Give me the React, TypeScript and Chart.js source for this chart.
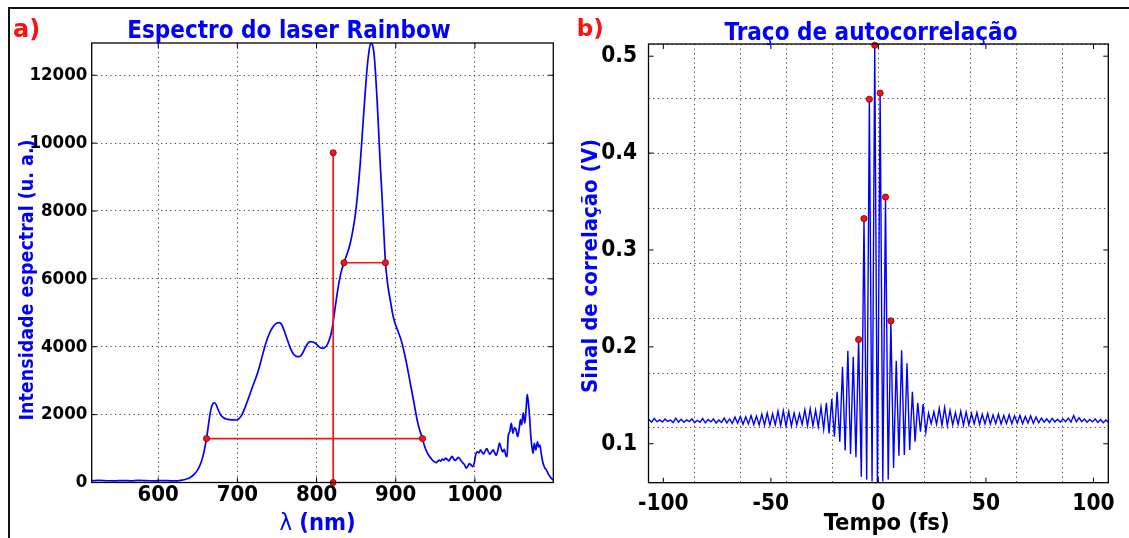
import React, { useEffect, useRef } from 'react';
import { Chart, registerables } from 'chart.js';

Chart.register(...registerables);

// ---------------- Panel a) : spectrum of the Rainbow laser ----------------
const wavelengthNm = [
  516, 525, 535, 545, 555, 565, 575, 585, 595, 605, 615, 622, 628, 634, 640, 645, 650, 654, 657, 659,
  661, 663, 665, 667, 669, 671, 673, 676, 679, 683, 688, 693, 698, 702, 706, 710, 714, 718, 722, 726,
  730, 734, 738, 742, 746, 750, 753, 756, 759, 762, 765, 768, 771, 774, 777, 780, 783, 786, 789, 792,
  795, 798, 801, 804, 807, 810, 813, 816, 819, 822, 825, 828, 831, 834.6, 838, 842, 846, 849, 852, 855,
  858, 861, 864, 866.5, 868.4, 870.5, 872.5, 874.5, 876.5, 878.5, 880.5, 882.5, 884.5, 887, 889, 891, 893.5, 896, 899, 903,
  907, 911, 915, 919, 923, 927, 930, 933.8, 936, 939, 942, 945, 948, 951, 953, 955, 957, 959, 961, 963,
  965, 967, 969, 971, 973, 975, 977, 979, 981, 983, 985, 987, 989, 991, 993, 995, 997, 999, 1001, 1003,
  1005, 1007, 1009, 1011, 1013, 1015, 1017, 1019, 1021, 1023, 1025, 1027, 1029, 1031, 1033, 1035, 1037, 1039, 1040.5, 1042,
  1044, 1046, 1048, 1050, 1052, 1054, 1056, 1057.5, 1059, 1061, 1063, 1064.5, 1066, 1067.5, 1069, 1070.5, 1072, 1073.5, 1075, 1077,
  1079, 1080.5, 1082, 1083.5, 1085.5, 1087, 1088.5, 1090, 1091.5, 1093, 1095, 1097, 1099,
];
const spectralIntensity = [
  55, 60, 52, 48, 58, 50, 62, 55, 48, 58, 50, 45, 60, 90, 140, 230, 380, 580, 820, 1040,
  1290, 1620, 1950, 2200, 2320, 2350, 2300, 2130, 1990, 1900, 1860, 1845, 1841, 1880, 2010, 2230, 2480, 2750, 3000, 3260,
  3600, 3950, 4250, 4470, 4620, 4700, 4708, 4650, 4480, 4280, 4080, 3900, 3780, 3720, 3706, 3730, 3840, 3980, 4100, 4148,
  4140, 4110, 4050, 3980, 3953, 3970, 4040, 4200, 4450, 4900, 5400, 5850, 6200, 6475, 6700, 7000, 7450, 7900, 8550, 9350,
  10350, 11350, 12250, 12750, 12950, 12900, 12650, 12050, 11250, 10300, 9350, 8500, 7600, 6475, 6000, 5650, 5320, 4980, 4700, 4450,
  4180, 3800, 3350, 2850, 2350, 1850, 1560, 1295, 1100, 920, 790, 700, 620, 585, 620, 660, 630, 690, 660, 720,
  680, 640, 700, 770, 700, 650, 690, 740, 700, 620, 570, 520, 420, 480, 560, 520, 470, 560, 820, 900,
  870, 960, 890, 840, 930, 1000, 900, 830, 900, 960, 870, 800, 950, 1160, 1020, 900, 980, 800, 760, 1350,
  1500, 1740, 1450, 1620, 1550, 1350, 1600, 1850, 1700, 2050, 1750, 2100, 2600, 2350, 1950, 1400, 1050, 860, 1150, 960,
  1200, 1050, 1100, 900, 620, 500, 420, 380, 310, 240, 170, 110, 74,
];
const spectrumXTicks = [600, 700, 800, 900, 1000];
const spectrumYTicks = [0, 2000, 4000, 6000, 8000, 10000, 12000];
const centerLineNm = [821, 821];
const centerLineLevel = [0, 9716];
const halfMaxNm = [834.6, 887];
const halfMaxLevel = [6475, 6475];
const tenthMaxNm = [661, 933.8];
const tenthMaxLevel = [1295, 1295];

// ---------------- Panel b) : autocorrelation trace ----------------
const delayFs = [
  -106.7, -105.45, -104.2, -102.95, -101.7, -100.45, -99.2, -97.95, -96.7, -95.45,
  -94.2, -92.95, -91.7, -90.45, -89.2, -87.95, -86.7, -85.45, -84.2, -82.95,
  -81.7, -80.45, -79.2, -77.95, -76.7, -75.45, -74.2, -72.95, -71.7, -70.45,
  -69.2, -67.95, -66.7, -65.45, -64.2, -62.95, -61.7, -60.45, -59.2, -57.95,
  -56.7, -55.45, -54.2, -52.95, -51.7, -50.45, -49.2, -47.95, -46.7, -45.45,
  -44.2, -42.95, -41.7, -40.45, -39.2, -37.95, -36.7, -35.45, -34.2, -32.95,
  -31.7, -30.45, -29.2, -27.95, -26.7, -25.45, -24.2, -22.95, -21.7, -20.45,
  -19.2, -17.95, -16.7, -15.45, -14.2, -12.95, -11.7, -10.45, -9.2, -7.95,
  -6.7, -5.45, -4.2, -2.95, -1.7, -0.45, 0.8, 2.05, 3.3, 4.55,
  5.8, 7.05, 8.3, 9.55, 10.8, 12.05, 13.3, 14.55, 15.8, 17.05,
  18.3, 19.55, 20.8, 22.05, 23.3, 24.55, 25.8, 27.05, 28.3, 29.55,
  30.8, 32.05, 33.3, 34.55, 35.8, 37.05, 38.3, 39.55, 40.8, 42.05,
  43.3, 44.55, 45.8, 47.05, 48.3, 49.55, 50.8, 52.05, 53.3, 54.55,
  55.8, 57.05, 58.3, 59.55, 60.8, 62.05, 63.3, 64.55, 65.8, 67.05,
  68.3, 69.55, 70.8, 72.05, 73.3, 74.55, 75.8, 77.05, 78.3, 79.55,
  80.8, 82.05, 83.3, 84.55, 85.8, 87.05, 88.3, 89.55, 90.8, 92.05,
  93.3, 94.55, 95.8, 97.05, 98.3, 99.55, 100.8, 102.05, 103.3, 104.55,
  105.8, 107.05,
];
const correlationV = [
  0.1250, 0.1222, 0.1262, 0.1226, 0.1246, 0.1224, 0.1256, 0.1230, 0.1244, 0.1218,
  0.1264, 0.1224, 0.1252, 0.1222, 0.1246, 0.1228, 0.1256, 0.1218, 0.1242, 0.1222,
  0.1260, 0.1216, 0.1250, 0.1226, 0.1256, 0.1214, 0.1246, 0.1220, 0.1264, 0.1216,
  0.1256, 0.1210, 0.1275, 0.1212, 0.1282, 0.1200, 0.1278, 0.1205, 0.1290, 0.1198,
  0.1285, 0.1195, 0.1305, 0.1192, 0.1318, 0.1190, 0.1310, 0.1195, 0.1335, 0.1186,
  0.1340, 0.1182, 0.1332, 0.1185, 0.1318, 0.1195, 0.1310, 0.1200, 0.1350, 0.1186,
  0.1362, 0.1185, 0.1345, 0.1175, 0.1380, 0.1150, 0.1423, 0.1107, 0.1461, 0.1072,
  0.1536, 0.1020, 0.1794, 0.0930, 0.1959, 0.0894, 0.1897, 0.0860, 0.2076, 0.0660,
  0.3324, 0.0630, 0.4556, 0.0610, 0.5113, 0.0590, 0.4619, 0.0610, 0.3546, 0.0630,
  0.2268, 0.0750, 0.1856, 0.0876, 0.1966, 0.0884, 0.1830, 0.0935, 0.1536, 0.1020,
  0.1423, 0.1124, 0.1410, 0.1120, 0.1316, 0.1206, 0.1330, 0.1200, 0.1365, 0.1190,
  0.1375, 0.1188, 0.1345, 0.1195, 0.1320, 0.1200, 0.1335, 0.1192, 0.1328, 0.1196,
  0.1310, 0.1205, 0.1322, 0.1200, 0.1305, 0.1206, 0.1312, 0.1202, 0.1298, 0.1208,
  0.1305, 0.1204, 0.1292, 0.1210, 0.1300, 0.1206, 0.1288, 0.1212, 0.1294, 0.1208,
  0.1282, 0.1214, 0.1288, 0.1210, 0.1276, 0.1216, 0.1264, 0.1224, 0.1256, 0.1220,
  0.1262, 0.1226, 0.1252, 0.1222, 0.1258, 0.1228, 0.1264, 0.1224, 0.1292, 0.1226,
  0.1268, 0.1228, 0.1256, 0.1222, 0.1250, 0.1226, 0.1258, 0.1220, 0.1250, 0.1218,
  0.1246, 0.1220,
];
const peakDelayFs = [-9.2, -6.7, -4.2, -1.7, 0.8, 3.3, 5.8];
const peakSignalV = [0.2076, 0.3324, 0.4556, 0.5113, 0.4619, 0.3546, 0.2268];
const traceXTicks = [-100, -50, 0, 50, 100];
const traceYTicks = [0.1, 0.2, 0.3, 0.4, 0.5];

// ---------------- styling ----------------
const FONT = "'DejaVu Sans Condensed', 'DejaVu Sans', sans-serif";
const FONT_REG = "'DejaVu Sans', sans-serif";
const BLUE = '#0000ff';
const RED = '#ff1010';
const DARK_RED = '#7a0000';
const GRID_COLOR = 'rgba(30,30,30,0.85)';
const GRID_DASH = [1.2, 3.4];

type TextPart = { text: string; font: string };
type TextItem = {
  parts: TextPart[];
  x: number;
  y: number;
  color: string;
  align?: 'left' | 'center';
  rotate?: boolean;
  baseline?: CanvasTextBaseline;
};

function makeTextPlugin(items: TextItem[]) {
  return {
    id: 'panelTexts',
    afterDraw(chart: any) {
      const ctx: CanvasRenderingContext2D = chart.ctx;
      for (const it of items) {
        ctx.save();
        ctx.translate(it.x, it.y);
        if (it.rotate) ctx.rotate(-Math.PI / 2);
        ctx.fillStyle = it.color;
        ctx.textBaseline = it.baseline || 'alphabetic';
        ctx.textAlign = 'left';
        let total = 0;
        const widths = it.parts.map((p) => {
          ctx.font = p.font;
          const w = ctx.measureText(p.text).width;
          total += w;
          return w;
        });
        let x = it.align === 'left' ? 0 : -total / 2;
        it.parts.forEach((p, i) => {
          ctx.font = p.font;
          ctx.fillText(p.text, x, 0);
          x += widths[i];
        });
        ctx.restore();
      }
    },
  };
}

const frameTicksPlugin = {
  id: 'frameTicks',
  afterDatasetsDraw(chart: any) {
    const ctx: CanvasRenderingContext2D = chart.ctx;
    const a = chart.chartArea;
    const xs = chart.scales.x;
    const ys = chart.scales.y;
    ctx.save();
    ctx.strokeStyle = '#000';
    ctx.lineWidth = 1;
    ctx.beginPath();
    xs.ticks.forEach((t: any) => {
      const px = xs.getPixelForValue(t.value);
      ctx.moveTo(px, a.bottom);
      ctx.lineTo(px, a.bottom - 5);
      ctx.moveTo(px, a.top);
      ctx.lineTo(px, a.top + 5);
    });
    ys.ticks.forEach((t: any) => {
      const py = ys.getPixelForValue(t.value);
      ctx.moveTo(a.left, py);
      ctx.lineTo(a.left + 5, py);
      ctx.moveTo(a.right, py);
      ctx.lineTo(a.right - 5, py);
    });
    ctx.stroke();
    ctx.lineWidth = 1.3;
    ctx.strokeRect(a.left, a.top, a.right - a.left, a.bottom - a.top);
    ctx.restore();
  },
};

const pts = (xs: number[], ys: number[]) => xs.map((x, i) => ({ x, y: ys[i] }));

const redSegment = (xs: number[], ys: number[]) => ({
  data: pts(xs, ys),
  borderColor: RED,
  borderWidth: 1.7,
  pointRadius: 3.1,
  pointBackgroundColor: RED,
  pointBorderColor: DARK_RED,
  pointBorderWidth: 0.8,
  clip: 6,
});

const gridOpts = { color: GRID_COLOR, lineWidth: 1, drawTicks: false };
const borderOpts = { display: false, dash: GRID_DASH };

function SpectrumChart() {
  const ref = useRef<HTMLCanvasElement>(null);
  useEffect(() => {
    const X_MIN = 516;
    const X_MAX = 1099;
    const chart = new Chart(ref.current as HTMLCanvasElement, {
      type: 'line',
      data: {
        datasets: [
          redSegment(centerLineNm, centerLineLevel),
          redSegment(halfMaxNm, halfMaxLevel),
          redSegment(tenthMaxNm, tenthMaxLevel),
          {
            data: pts(wavelengthNm, spectralIntensity),
            borderColor: BLUE,
            borderWidth: 1.7,
            pointRadius: 0,
            cubicInterpolationMode: 'monotone',
            order: 5,
          },
        ] as any,
      },
      options: {
        responsive: false,
        animation: false,
        events: [],
        layout: { padding: { left: 0, top: 43, right: 11.7, bottom: 0 } },
        plugins: { legend: { display: false }, tooltip: { enabled: false }, title: { display: false } },
        scales: {
          x: {
            type: 'linear',
            min: X_MIN,
            max: X_MAX,
            afterBuildTicks: (s: any) => {
              s.ticks = spectrumXTicks.map((v) => ({ value: v }));
            },
            afterFit: (s: any) => {
              s.height = 55.5;
            },
            grid: gridOpts,
            border: borderOpts,
            ticks: {
              color: '#000',
              padding: 0,
              maxRotation: 0,
              autoSkip: false,
              font: { family: FONT, size: 22, weight: 'bold' },
              callback: (v: any) => String(v),
            },
          },
          y: {
            type: 'linear',
            min: 0,
            max: 12950,
            afterBuildTicks: (s: any) => {
              s.ticks = spectrumYTicks.map((v) => ({ value: v }));
            },
            afterFit: (s: any) => {
              s.width = 91.7;
            },
            grid: gridOpts,
            border: borderOpts,
            ticks: {
              color: '#000',
              padding: 4.4,
              autoSkip: false,
              font: { family: FONT, size: 18.5, weight: 'bold' },
              callback: (v: any) => String(v),
            },
          },
        },
      } as any,
      plugins: [
        frameTicksPlugin,
        makeTextPlugin([
          { parts: [{ text: 'a)', font: `bold 24px ${FONT_REG}` }], x: 13, y: 37, color: RED, align: 'left' },
          { parts: [{ text: 'Espectro do laser Rainbow', font: `bold 24px ${FONT}` }], x: 289, y: 38.4, color: BLUE },
          {
            parts: [{ text: 'Intensidade espectral (u. a.)', font: `bold 19.5px ${FONT}` }],
            x: 28,
            y: 280,
            color: BLUE,
            rotate: true,
            baseline: 'middle',
          },
          {
            parts: [
              { text: 'λ', font: `normal 23.5px ${FONT}` },
              { text: ' (nm)', font: `bold 23.5px ${FONT}` },
            ],
            x: 317.6,
            y: 530,
            color: BLUE,
          },
        ]),
      ],
    });
    return () => chart.destroy();
  }, []);
  return <canvas ref={ref} width={565} height={538} style={{ display: 'block', width: 565, height: 538 }} />;
}

function AutocorrelationChart() {
  const ref = useRef<HTMLCanvasElement>(null);
  useEffect(() => {
    const X_MIN = -106.9;
    const X_MAX = 106.9;
    const Y_MIN = 0.0598;
    const Y_MAX = 0.5126;
    const even = (min: number, max: number, n: number) =>
      Array.from({ length: n + 1 }, (_, i) => ({ value: min + ((max - min) * i) / n }));
    const chart = new Chart(ref.current as HTMLCanvasElement, {
      type: 'line',
      data: {
        datasets: [
          {
            data: pts(delayFs, correlationV),
            borderColor: BLUE,
            borderWidth: 1.4,
            pointRadius: 0,
            order: 5,
          },
          {
            data: pts(peakDelayFs, peakSignalV),
            showLine: false,
            pointRadius: 3.1,
            pointBackgroundColor: RED,
            pointBorderColor: DARK_RED,
            pointBorderWidth: 0.8,
            clip: false,
            order: 1,
          },
        ] as any,
      },
      options: {
        responsive: false,
        animation: false,
        events: [],
        layout: { padding: { left: 0, top: 44, right: 20.7, bottom: 0 } },
        plugins: { legend: { display: false }, tooltip: { enabled: false }, title: { display: false } },
        scales: {
          x: {
            type: 'linear',
            min: X_MIN,
            max: X_MAX,
            afterBuildTicks: (s: any) => {
              s.ticks = traceXTicks.map((v) => ({ value: v }));
            },
            afterFit: (s: any) => {
              s.height = 55.3;
            },
            grid: { display: false },
            border: { display: false },
            ticks: {
              color: '#000',
              padding: 0,
              maxRotation: 0,
              autoSkip: false,
              font: { family: FONT, size: 22.5, weight: 'bold' },
              callback: (v: any) => String(v),
            },
          },
          y: {
            type: 'linear',
            min: Y_MIN,
            max: Y_MAX,
            afterBuildTicks: (s: any) => {
              s.ticks = traceYTicks.map((v) => ({ value: v }));
            },
            afterFit: (s: any) => {
              s.width = 83.5;
            },
            grid: { display: false },
            border: { display: false },
            ticks: {
              color: '#000',
              padding: 3.5,
              autoSkip: false,
              font: { family: FONT, size: 22.5, weight: 'bold' },
              callback: (v: any) => Number(v).toFixed(1),
            },
          },
          xg: {
            type: 'linear',
            position: 'top',
            min: X_MIN,
            max: X_MAX,
            afterBuildTicks: (s: any) => {
              s.ticks = even(X_MIN, X_MAX, 10);
            },
            afterFit: (s: any) => {
              s.height = 0;
            },
            grid: gridOpts,
            border: borderOpts,
            ticks: { display: false },
          },
          yg: {
            type: 'linear',
            position: 'right',
            min: Y_MIN,
            max: Y_MAX,
            afterBuildTicks: (s: any) => {
              s.ticks = even(Y_MIN, Y_MAX, 8);
            },
            afterFit: (s: any) => {
              s.width = 0;
            },
            grid: gridOpts,
            border: borderOpts,
            ticks: { display: false },
          },
        },
      } as any,
      plugins: [
        frameTicksPlugin,
        makeTextPlugin([
          { parts: [{ text: 'b)', font: `bold 23px ${FONT_REG}` }], x: 11.7, y: 35.5, color: RED, align: 'left' },
          { parts: [{ text: 'Traço de autocorrelação', font: `bold 24px ${FONT}` }], x: 306, y: 40, color: BLUE },
          {
            parts: [{ text: 'Sinal de correlação (V)', font: `bold 22px ${FONT}` }],
            x: 26.7,
            y: 266,
            color: BLUE,
            rotate: true,
            baseline: 'middle',
          },
          { parts: [{ text: 'Tempo (fs)', font: `bold 23.5px ${FONT}` }], x: 321.7, y: 530, color: '#000' },
        ]),
      ],
    });
    return () => chart.destroy();
  }, []);
  return <canvas ref={ref} width={564} height={538} style={{ display: 'block', width: 564, height: 538 }} />;
}

export default function App() {
  return (
    <div
      style={{
        position: 'fixed',
        left: 0,
        top: 0,
        width: 1129,
        height: 538,
        background: '#fff',
        overflow: 'hidden',
      }}
    >
      <div
        style={{
          position: 'absolute',
          left: 8,
          top: 7,
          width: 1200,
          height: 600,
          borderTop: '2px solid #111',
          borderLeft: '2px solid #111',
        }}
      />
      <div style={{ position: 'absolute', left: 0, top: 0 }}>
        <SpectrumChart />
      </div>
      <div style={{ position: 'absolute', left: 565, top: 0 }}>
        <AutocorrelationChart />
      </div>
    </div>
  );
}
